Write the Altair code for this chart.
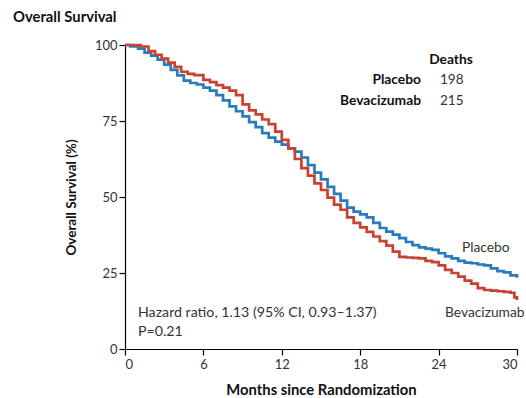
import altair as alt
import pandas as pd

# Kaplan-Meier curves (months, % surviving)
placebo_t = [0, 0.4, 1.0, 1.5, 2.0, 2.5, 3.0, 3.5, 4.0, 4.5, 5.0, 5.5, 6.0, 6.5, 7.0, 7.5, 8.0, 8.5,
             9.0, 9.5, 10.0, 10.5, 11.0, 11.5, 12.0, 12.5, 13.0, 13.5, 14.0, 14.5, 15.0, 15.5, 16.0,
             16.5, 17.0, 17.5, 18.0, 18.5, 19.0, 19.5, 20.0, 20.5, 21.0, 21.5, 22.0, 22.5, 23.0, 23.5,
             24.0, 24.5, 25.0, 25.5, 26.0, 26.5, 27.0, 27.5, 28.0, 28.5, 29.0, 29.5, 30.0]
placebo_s = [100, 99.5, 98.8, 97.5, 96.5, 95.2, 93.5, 91.8, 90.0, 88.3, 87.5, 87.0, 86.0, 85.0, 83.5,
             81.8, 79.8, 78.2, 76.5, 74.6, 73.0, 71.0, 69.5, 68.2, 67.2, 66.0, 64.9, 63.0, 60.5, 58.0,
             55.8, 53.3, 51.0, 48.8, 46.5, 45.2, 44.3, 43.3, 41.5, 39.8, 38.6, 37.6, 36.5, 35.2, 34.2,
             33.4, 33.0, 32.6, 31.5, 30.5, 29.8, 29.0, 28.4, 28.2, 27.8, 27.5, 26.5, 25.6, 25.2, 24.2,
             23.4]

bev_t = [0, 1.2, 1.8, 2.3, 2.8, 3.3, 3.8, 4.3, 4.8, 5.3, 6.0, 6.5, 7.0, 7.5, 8.0, 8.5, 9.0, 9.5,
         10.0, 10.5, 11.0, 11.5, 12.0, 12.5, 13.0, 13.5, 14.0, 14.5, 15.0, 15.5, 16.0, 16.5, 17.0,
         17.5, 18.0, 18.5, 19.0, 19.5, 20.0, 20.5, 21.0, 21.5, 22.0, 22.5, 23.0, 23.5, 24.0, 24.5,
         25.0, 25.5, 26.0, 26.5, 27.0, 27.5, 28.0, 28.5, 29.0, 29.5, 29.8, 30.0]
bev_s = [100, 99.5, 98.0, 96.8, 95.5, 94.2, 92.8, 91.2, 90.5, 90.1, 88.5, 87.8, 86.8, 86.0, 85.0,
         83.5, 80.5, 78.5, 77.2, 75.5, 74.0, 71.5, 68.8, 66.0, 62.5, 59.5, 57.0, 54.5, 52.3, 49.8,
         47.5, 45.8, 43.3, 41.5, 40.0, 38.5, 37.0, 35.5, 34.0, 32.0, 30.3, 30.1, 30.0, 29.8, 29.0,
         28.6, 27.5, 26.0, 25.0, 23.8, 22.5, 21.5, 20.0, 19.4, 19.2, 19.0, 18.8, 18.5, 17.0, 16.1]

series = ["Placebo", "Bevacizumab"]
colors = ["#2a7bbd", "#c9412f"]
x_ticks = [0, 6, 12, 18, 24, 30]
y_ticks = [0, 25, 50, 75, 100]

df = pd.concat([
    pd.DataFrame({"month": placebo_t, "surv": placebo_s, "group": "Placebo"}),
    pd.DataFrame({"month": bev_t, "surv": bev_s, "group": "Bevacizumab"}),
])

FONT = "Lato"
TXT = "#333333"

lines = alt.Chart(df).mark_line(interpolate="step-after", strokeWidth=2.7).encode(
    x=alt.X("month:Q", scale=alt.Scale(domain=[0, 30], nice=False),
            axis=alt.Axis(values=x_ticks, title="Months since Randomization", grid=False,
                          tickSize=6, labelPadding=3, titlePadding=11, titleFontSize=14.8)),
    y=alt.Y("surv:Q", scale=alt.Scale(domain=[0, 100], nice=False),
            axis=alt.Axis(values=y_ticks, title="Overall Survival (%)", grid=False,
                          tickSize=6, labelPadding=2, titlePadding=16)),
    color=alt.Color("group:N", scale=alt.Scale(domain=series, range=colors), legend=None),
)

def txt(s, x, y, bold=False, align="left", size=12.5, color=TXT):
    return alt.Chart(pd.DataFrame({"t": [s]})).mark_text(
        align=align, baseline="middle", font=FONT, fontSize=size,
        fontWeight="bold" if bold else "normal", color=color,
    ).encode(text="t:N", x=alt.value(x), y=alt.value(y))

ox, oy = 125, 45
texts = [
    txt("Overall Survival", 13 - ox, 18 - oy, bold=True, size=14.8, color="#111111"),
    txt("Deaths", 451 - ox, 60 - oy, bold=True, align="center", size=13.8, color="#111111"),
    txt("Placebo", 421 - ox, 80 - oy, bold=True, align="right", size=13.8, color="#111111"),
    txt("198", 440 - ox, 80 - oy, size=13.5),
    txt("Bevacizumab", 421 - ox, 101 - oy, bold=True, align="right", size=13.8, color="#111111"),
    txt("215", 440 - ox, 101 - oy, size=13.5),
    txt("Placebo", 462 - ox, 248 - oy, size=13.8),
    txt("Bevacizumab", 445 - ox, 313 - oy, size=13.8),
    txt("Hazard ratio, 1.13 (95% CI, 0.93\u20131.37)", 138 - ox, 313 - oy, size=14.2),
    txt("P=0.21", 138 - ox, 332 - oy, size=14.2),
]

chart = alt.layer(lines, *texts).properties(
    width=392, height=304,
    autosize=alt.AutoSizeParams(type="none"),
    padding={"left": 125, "top": 45, "right": 9, "bottom": 49},
).configure_view(stroke=None, clip=False).configure_axis(
    domainColor="black", tickColor="black", domainWidth=1.2, tickWidth=1.2,
    labelFont=FONT, labelFontSize=13, labelColor=TXT,
    titleFont=FONT, titleFontSize=13.5, titleFontWeight="bold", titleColor="#111111",
)

chart.save("out.html", embed_options={"renderer": "svg", "actions": False})
